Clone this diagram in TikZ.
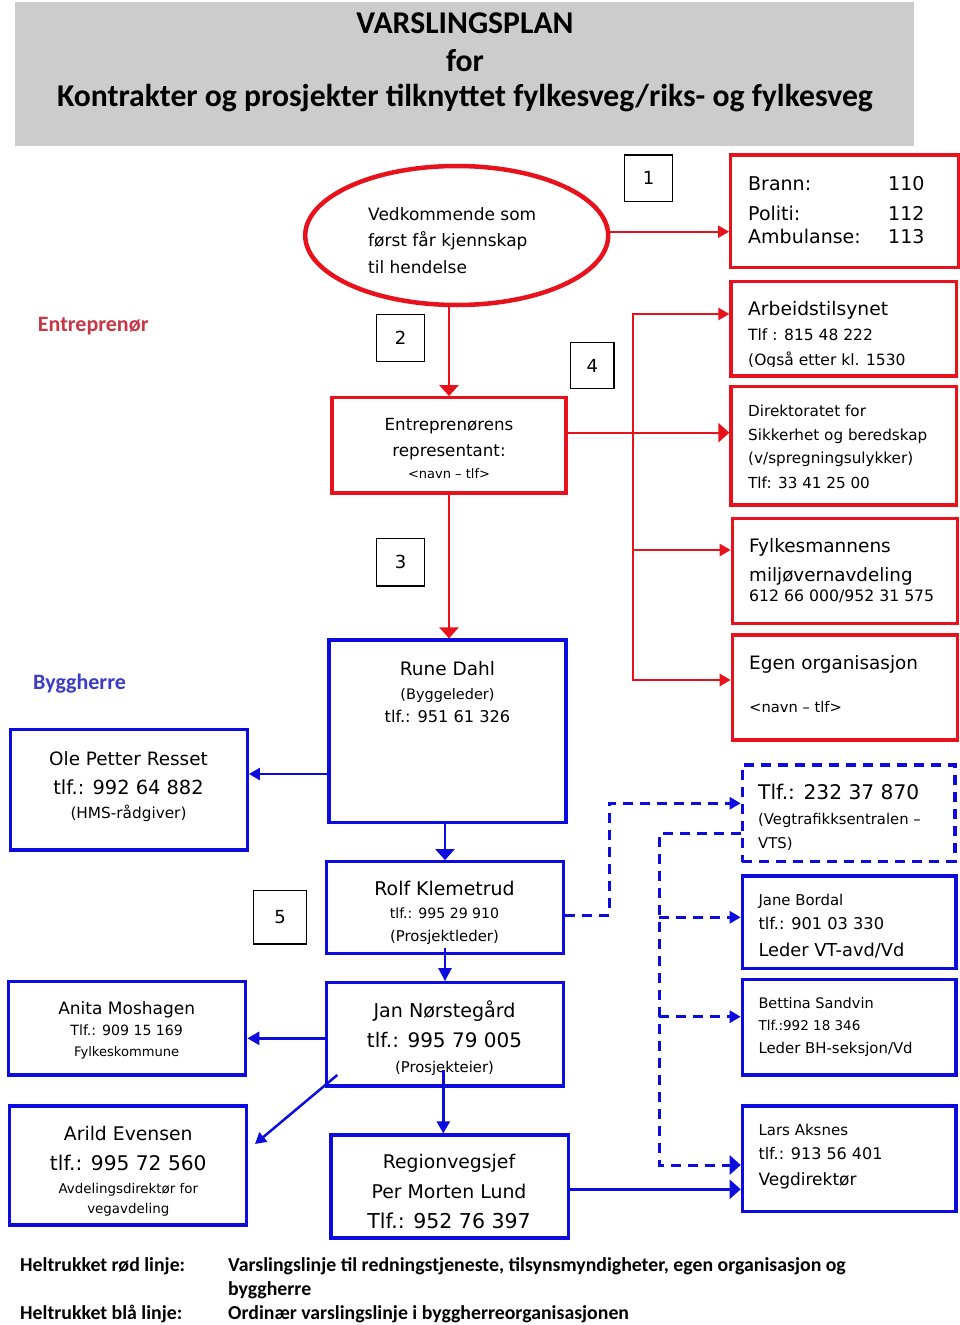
\documentclass[tikz,border=0pt]{standalone}
\usepackage{fontspec}
\setmainfont{DejaVu Sans}
\newfontfamily\carl{Carlito}
\usetikzlibrary{arrows.meta,shapes.geometric}
\definecolor{myred}{RGB}{232,18,28}
\definecolor{myblue}{RGB}{12,12,222}
\definecolor{entcol}{RGB}{200,55,70}
\definecolor{bygcol}{RGB}{60,60,200}
\definecolor{titlegray}{RGB}{204,204,204}
\newcommand\mybox[7]{\node[#6, minimum width={#4pt-#2pt}, minimum height={#5pt-#3pt}, inner sep=0pt] (#1) at ({(#2+#4)/2},{(#3+#5)/2}) {#7};}
\newcommand\mytext[5]{\node[anchor=#4, inner sep=0pt, font=\fontsize{#3pt}{#3pt}\selectfont] (#1) at (#2) {#5};}
\tikzset{
  redbox/.style={draw=myred, line width=3.2pt},
  bluebox/.style={draw=myblue, line width=3.2pt},
  dashbox/.style={draw=myblue, line width=3.2pt, dash pattern=on 10pt off 7pt},
  numbox/.style={draw=black, line width=1.2pt, font=\fontsize{18pt}{18pt}\selectfont},
  smalltip/.style={-{Triangle[length=11pt,width=12pt]}},
  bigtip/.style={-{Triangle[length=11pt,width=19pt]}},
  redline/.style={draw=myred, line width=2.4pt},
  blueline/.style={draw=myblue, line width=2.5pt},
  dashline/.style={draw=myblue, line width=3pt, dash pattern=on 10pt off 7pt},
  lbl/.style={font=\carl\bfseries\fontsize{22pt}{22pt}\selectfont, anchor=base west, inner sep=0pt},
  legend/.style={font=\carl\bfseries\fontsize{19.8pt}{19.8pt}\selectfont, anchor=base west, inner sep=0pt},
  ttl/.style={font=\carl\bfseries\fontsize{31.7pt}{31.7pt}\selectfont, anchor=base, inner sep=0pt}
}
\begin{document}
\begin{tikzpicture}[x=1pt,y=-1pt]
\useasboundingbox (0,0) rectangle (960,1325);
\fill[white] (0,0) rectangle (960,1325);

% title
\mybox{title}{15.3}{1.7}{913.7}{146}{fill=titlegray}{}
\node[ttl] (t1) at (465,33.3) {VARSLINGSPLAN};
\node[ttl] (t2) at (465,71.7) {for};
\node[ttl] (t3) at (465,106.7) {Kontrakter og prosjekter tilknyttet fylkesveg/riks- og fylkesveg};

% side labels
\node[lbl, text=entcol] (lent) at (37.7,331.7) {Entreprenør};
\node[lbl, text=bygcol] (lbyg) at (33,689) {Byggherre};

% ellipse
\node[draw=myred, line width=4.5pt, ellipse, minimum width=303pt, minimum height=139pt, inner sep=0pt] (ell) at (456.7,235.5) {};
\mytext{e1}{368,220}{17}{base west}{Vedkommende som}
\mytext{e2}{368,246.5}{17}{base west}{først får kjennskap}
\mytext{e3}{368,273}{17}{base west}{til hendelse}

% number boxes
\mybox{n1}{624.3}{155}{672.7}{201.7}{numbox}{1}
\mybox{n2}{376.7}{314.3}{424.3}{361.7}{numbox}{2}
\mybox{n4}{570.7}{342.7}{614}{388.3}{numbox}{4}
\mybox{n3}{376.7}{538.3}{424.3}{586}{numbox}{3}
\mybox{n5}{253.3}{890.7}{306.7}{944}{numbox}{5}

% red boxes
\mybox{brann}{730.7}{155}{958.3}{267.3}{redbox}{}
\mytext{b1}{748,190}{19}{base west}{Brann:}
\mytext{b2}{888,190}{19}{base west}{110}
\mytext{b3}{748,220}{19}{base west}{Politi:}
\mytext{b4}{888,220}{19}{base west}{112}
\mytext{b5}{748,243.3}{19}{base west}{Ambulanse:}
\mytext{b6}{888,243.3}{19}{base west}{113}

\mybox{arb}{731}{281.7}{956.7}{376}{redbox}{}
\mytext{a1}{748,315.7}{18.7}{base west}{Arbeidstilsynet}
\mytext{a2}{748,340}{15.5}{base west}{Tlf : 815 48 222}
\begin{scope}
\clip (740,345) rectangle (955,366);
\mytext{a3}{748,365}{15.5}{base west}{(Også etter kl. 1530}
\end{scope}

\mybox{dir}{731}{386.7}{956.7}{505}{redbox}{}
\mytext{d1}{748,416}{15.2}{base west}{Direktoratet for}
\mytext{d2}{748,440}{15.2}{base west}{Sikkerhet og beredskap}
\mytext{d3}{748,463.5}{15.2}{base west}{(v/spregningsulykker)}
\mytext{d4}{748,488}{15.2}{base west}{Tlf: 33 41 25 00}

\mybox{fyl}{732.3}{518.3}{957.3}{623.3}{redbox}{}
\mytext{f1}{749,552.7}{18.5}{base west}{Fylkesmannens}
\mytext{f2}{749,581.7}{18.3}{base west}{miljøvernavdeling}
\mytext{f3}{749,601.7}{15.7}{base west}{612 66 000/952 31 575}

\mybox{egen}{732.3}{635}{957.3}{740}{redbox}{}
\mytext{g1}{749,669}{18.4}{base west}{Egen organisasjon}
\mytext{g2}{749,712}{14.7}{base west}{<navn – tlf>}

\mybox{entr}{332}{397.7}{566}{493}{redbox}{}
\mytext{en1}{449,430}{16.7}{base}{Entreprenørens}
\mytext{en2}{449,456.7}{16.7}{base}{representant:}
\mytext{en3}{449,478}{13}{base}{<navn – tlf>}

% blue boxes
\mybox{rune}{329}{640}{566}{822.7}{bluebox}{}
\mytext{r1}{447.5,675}{18.5}{base}{Rune Dahl}
\mytext{r2}{447.5,699}{14.5}{base}{(Byggeleder)}
\mytext{r3}{447.5,722.7}{16.2}{base}{tlf.: 951 61 326}

\mybox{ole}{10.7}{729.3}{247.3}{850}{bluebox}{}
\mytext{o1}{128.5,765}{18.4}{base}{Ole Petter Resset}
\mytext{o2}{128.5,794}{19.4}{base}{tlf.: 992 64 882}
\mytext{o3}{128.5,818}{15.3}{base}{(HMS-rådgiver)}

\mybox{vts}{742.3}{765}{955}{861.7}{dashbox}{}
\mytext{v1}{758,799}{20.2}{base west}{Tlf.: 232 37 870}
\mytext{v2}{758,824}{14.8}{base west}{(Vegtrafikksentralen –}
\mytext{v3}{758,848}{14.8}{base west}{VTS)}

\mybox{rolf}{326.7}{861.7}{563.3}{953.3}{bluebox}{}
\mytext{k1}{444.5,895.7}{18.9}{base}{Rolf Klemetrud}
\mytext{k2}{444.5,918.3}{14.1}{base}{tlf.: 995 29 910}
\mytext{k3}{444.5,941.7}{14.9}{base}{(Prosjektleder)}

\mybox{jan}{326.7}{982.7}{563.3}{1086}{bluebox}{}
\mytext{j1}{444.5,1017.3}{19.1}{base}{Jan Nørstegård}
\mytext{j2}{444.5,1047.3}{20}{base}{tlf.: 995 79 005}
\mytext{j3}{444.5,1072.7}{14.8}{base}{(Prosjekteier)}

\mybox{anita}{8.3}{981.7}{245.7}{1075}{bluebox}{}
\mytext{m1}{126.7,1014}{17}{base}{Anita Moshagen}
\mytext{m2}{126.7,1035.7}{14.1}{base}{Tlf.: 909 15 169}
\mytext{m3}{126.7,1056.7}{13.1}{base}{Fylkeskommune}

\mybox{arild}{9.3}{1106}{246.7}{1225}{bluebox}{}
\mytext{ae1}{128.3,1140}{18.8}{base}{Arild Evensen}
\mytext{ae2}{128.3,1170}{20.2}{base}{tlf.: 995 72 560}
\mytext{ae3}{128.3,1193.3}{13.4}{base}{Avdelingsdirektør for}
\mytext{ae4}{128.3,1213.3}{13.4}{base}{vegavdeling}

\mybox{region}{331}{1135}{568.3}{1238}{bluebox}{}
\mytext{rg1}{449,1168.3}{18.8}{base}{Regionvegsjef}
\mytext{rg2}{449,1198.3}{18.9}{base}{Per Morten Lund}
\mytext{rg3}{449,1228.3}{20.5}{base}{Tlf.: 952 76 397}

\mybox{jane}{742.3}{876}{956}{968.3}{bluebox}{}
\mytext{jb1}{758.3,905}{14.9}{base west}{Jane Bordal}
\mytext{jb2}{758.3,929.3}{16.2}{base west}{tlf.: 901 03 330}
\mytext{jb3}{758.3,956}{17.8}{base west}{Leder VT-avd/Vd}

\mybox{bet}{742.3}{979.3}{956}{1075}{bluebox}{}
\mytext{bs1}{758.3,1008.3}{14.5}{base west}{Bettina Sandvin}
\mytext{bs2}{758.3,1030}{13.5}{base west}{Tlf.:992 18 346}
\mytext{bs3}{758.3,1053.3}{14.9}{base west}{Leder BH-seksjon/Vd}

\mybox{lars}{742.3}{1106}{956}{1211.7}{bluebox}{}
\mytext{la1}{758.3,1135}{15}{base west}{Lars Aksnes}
\mytext{la2}{758.3,1159}{16}{base west}{tlf.: 913 56 401}
\mytext{la3}{758.3,1185}{17}{base west}{Vegdirektør}

% red connectors
\coordinate (yA) at (0,231.7);
\draw[redline, smalltip] (ell.east |- yA) -- (brann.west |- yA);
\draw[redline, bigtip] (entr.north |- ell.south) -- (entr.north);
\draw[redline, bigtip] (entr.south) -- (entr.south |- rune.north);
\coordinate (rvj) at (632.7,432.7);
\coordinate (ry1) at (0,314);
\coordinate (ry3) at (0,550);
\coordinate (ry4) at (0,680);
\draw[redline, bigtip] (entr.east |- rvj) -- (dir.west |- rvj);
\draw[redline, smalltip] (rvj) |- (arb.west |- ry1);
\draw[redline, smalltip] (rvj) |- (fyl.west |- ry3);
\draw[redline, smalltip] (rvj) |- (egen.west |- ry4);

% blue connectors
\coordinate (yB1) at (0,774);
\draw[blueline, smalltip] (rune.west |- yB1) -- (ole.east |- yB1);
\draw[blueline, bigtip] (rolf.north |- rune.south) -- (rolf.north);
\draw[blueline, {Triangle[length=13pt,width=13pt]}-] (jan.north) -- ([yshift=7pt]rolf.south);
\coordinate (yB2) at (0,1038.3);
\draw[blueline, {Triangle[length=12pt,width=13pt]}-] (anita.east |- yB2) -- (jan.west |- yB2);
\coordinate (dg1) at (337.3,1075);
\coordinate (dg2) at (255,1144);
\draw[blueline, smalltip] (dg1) -- (dg2);
\coordinate (jr) at (443.3,1070);
\draw[blueline, {Triangle[length=12pt,width=13pt]}-] (jr |- region.north) -- (jr);
\coordinate (yB3) at (0,1189.3);
\draw[blueline, bigtip] (region.east |- yB3) -- (lars.west |- yB3);

% dashed connectors
\coordinate (dv1) at (609.3,915);
\coordinate (dv2) at (609.3,803.3);
\draw[dashline, smalltip] (rolf.east |- dv1) -- (dv1) -- (dv2) -- (vts.west |- dv2);
\coordinate (dw1) at (659,833.3);
\coordinate (dw2) at (659,1165);
\draw[dashline, bigtip] (vts.west |- dw1) -- (dw1) -- (dw2) -- (lars.west |- dw2);
\coordinate (dj) at (659,917.3);
\coordinate (db) at (659,1016.7);
\draw[dashline, smalltip] (dj) -- (jane.west |- dj);
\draw[dashline, smalltip] (db) -- (bet.west |- db);

% legend
\node[legend] (lg1) at (20,1271) {Heltrukket rød linje:};
\node[legend] (lg2) at (228,1271) {Varslingslinje til redningstjeneste, tilsynsmyndigheter, egen organisasjon og};
\node[legend] (lg3) at (228,1295) {byggherre};
\node[legend] (lg4) at (20,1319) {Heltrukket blå linje:};
\node[legend] (lg5) at (228,1319) {Ordinær varslingslinje i byggherreorganisasjonen};
\end{tikzpicture}
\end{document}
